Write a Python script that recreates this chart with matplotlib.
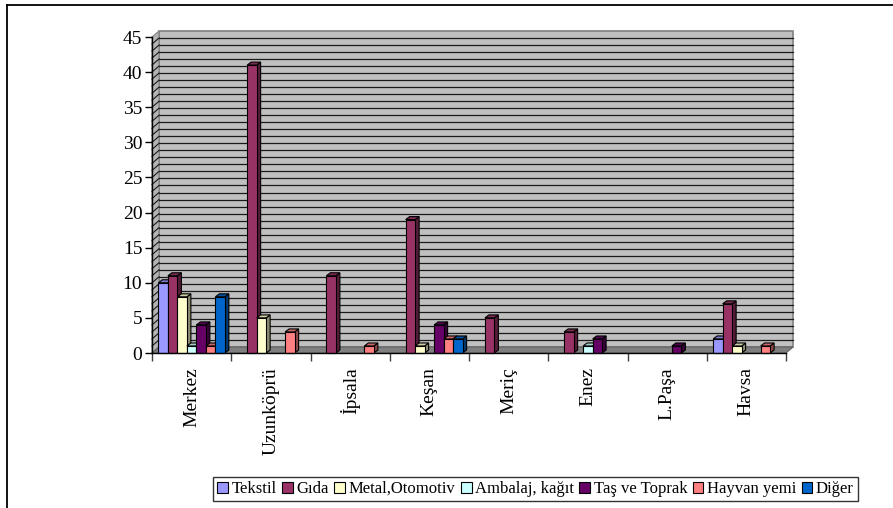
import matplotlib
matplotlib.use("Agg")
import matplotlib.pyplot as plt
from matplotlib.patches import Polygon, Rectangle, Patch
from matplotlib.lines import Line2D
import numpy as np

categories = ["Merkez", "Uzunköprü", "İpsala", "Keşan", "Meriç", "Enez", "L.Paşa", "Havsa"]
series_names = ["Tekstil", "Gıda", "Metal,Otomotiv", "Ambalaj, kağıt", "Taş ve Toprak", "Hayvan yemi", "Diğer"]
tekstil = [10, 0, 0, 0, 0, 0, 0, 2]
gida = [11, 41, 11, 19, 5, 3, 0, 7]
metal = [8, 5, 0, 1, 0, 0, 0, 1]
ambalaj = [1, 0, 0, 0, 0, 1, 0, 0]
tas = [4, 0, 0, 4, 0, 2, 1, 0]
hayvan = [1, 3, 1, 2, 0, 0, 0, 1]
diger = [8, 0, 0, 2, 0, 0, 0, 0]
series_values = [tekstil, gida, metal, ambalaj, tas, hayvan, diger]
colors = ["#9999FF", "#993366", "#FFFFCC", "#CCFFFF", "#660066", "#FF8080", "#0066CC"]
yticks = list(range(0, 50, 5))

plt.rcParams['font.family'] = ['Liberation Serif', 'DejaVu Serif']

W, H = 893, 508
fig = plt.figure(figsize=(W / 100, H / 100), dpi=100)
ax_left, ax_right, ax_bottom_px, ax_top_px = 152, 786, 353, 37
ax = fig.add_axes([ax_left / W, (H - ax_bottom_px) / H, (ax_right - ax_left) / W, (ax_bottom_px - ax_top_px) / H])
ncat = len(categories)
ymax = 45
ax.set_xlim(0, ncat)
ax.set_ylim(0, ymax)
for s in ["top", "right", "bottom"]:
    ax.spines[s].set_visible(False)
ax.spines["left"].set_linewidth(1.0)
ax.patch.set_alpha(0)

# unit conversion for drawing depth effects
upx_x = ncat / (ax_right - ax_left)
upx_y = ymax / (ax_bottom_px - ax_top_px)
wall_dx, wall_dy = 7 * upx_x, 6 * upx_y

# back wall
ax.add_patch(Rectangle((wall_dx, wall_dy), ncat, ymax, facecolor="#C0C0C0", edgecolor="#808080", lw=1.2, zorder=0, clip_on=False))
# left wall
ax.add_patch(Polygon([(0, 0), (wall_dx, wall_dy), (wall_dx, ymax + wall_dy), (0, ymax)], closed=True,
                     facecolor="#B4B4B4", edgecolor="#808080", lw=0.8, zorder=0.5, clip_on=False))
# gridlines
for k in range(1, ymax):
    ax.plot([wall_dx, ncat + wall_dx], [k + wall_dy, k + wall_dy], color="#1a1a1a", lw=0.9, zorder=0.6, clip_on=False)
    ax.plot([0, wall_dx], [k, k + wall_dy], color="#1a1a1a", lw=0.8, zorder=0.6, clip_on=False)
# floor
ax.add_patch(Polygon([(0, 0), (ncat, 0), (ncat + wall_dx, wall_dy), (wall_dx, wall_dy)], closed=True,
                     facecolor="#808080", edgecolor="#606060", lw=0.8, zorder=0.7, clip_on=False))

# bars
nser = len(series_names)
margin = 6.4 * upx_x
bw = (1 - 2 * margin) / nser
bdx, bdy = 4 * upx_x, 3 * upx_y

def shade(c, f):
    r, g, b = matplotlib.colors.to_rgb(c)
    return (r * f, g * f, b * f)

z = 2
for i in range(ncat):
    for j in range(nser):
        v = series_values[j][i]
        if v <= 0:
            continue
        x0 = i + margin + j * bw
        c = colors[j]
        ax.add_patch(Polygon([(x0 + bw, 0), (x0 + bw + bdx, bdy), (x0 + bw + bdx, v + bdy), (x0 + bw, v)],
                             closed=True, facecolor=shade(c, 0.55), edgecolor="black", lw=0.8, zorder=z, clip_on=False))
        ax.add_patch(Polygon([(x0, v), (x0 + bw, v), (x0 + bw + bdx, v + bdy), (x0 + bdx, v + bdy)],
                             closed=True, facecolor=shade(c, 0.8), edgecolor="black", lw=0.8, zorder=z, clip_on=False))
        ax.bar(x0, v, width=bw, align="edge", color=c, edgecolor="black", lw=0.8, zorder=z + 0.1, clip_on=False)
        z += 0.2

# front x axis
ax.plot([0, ncat], [0, 0], color="black", lw=1.0, zorder=50, clip_on=False)
ax.set_xticks(np.arange(0, ncat + 1), [""] * (ncat + 1))
ax.set_xticks(np.arange(ncat) + 0.5, categories, minor=True)
ax.tick_params(axis="x", which="major", direction="out", length=6, width=1, color="#404040")
ax.tick_params(axis="x", which="minor", length=0, pad=10, labelsize=14, labelrotation=90)
ax.set_yticks(yticks)
ax.tick_params(axis="y", direction="out", length=5, width=1, labelsize=14, pad=2)
for lab in ax.get_xticklabels(minor=True):
    lab.set_verticalalignment("top")

handles = [Patch(facecolor=c, edgecolor="black", lw=0.8) for c in colors]
leg = fig.legend(handles, series_names, loc="center", bbox_to_anchor=(535.5 / W, (H - 489) / H), ncol=7,
                 fontsize=12, frameon=True, fancybox=False, handlelength=0.65, handleheight=0.65,
                 handletextpad=0.2, columnspacing=0.33, borderpad=0.25, borderaxespad=0)
leg.get_frame().set_edgecolor("black")
leg.get_frame().set_linewidth(1.0)

# chart area border (left and top)
fig.add_artist(Line2D([7 / W, 7 / W], [0, (H - 5) / H], color="black", lw=1.3))
fig.add_artist(Line2D([7 / W, 1], [(H - 5) / H, (H - 5) / H], color="black", lw=1.3))

fig.savefig("out.png", dpi=100)
